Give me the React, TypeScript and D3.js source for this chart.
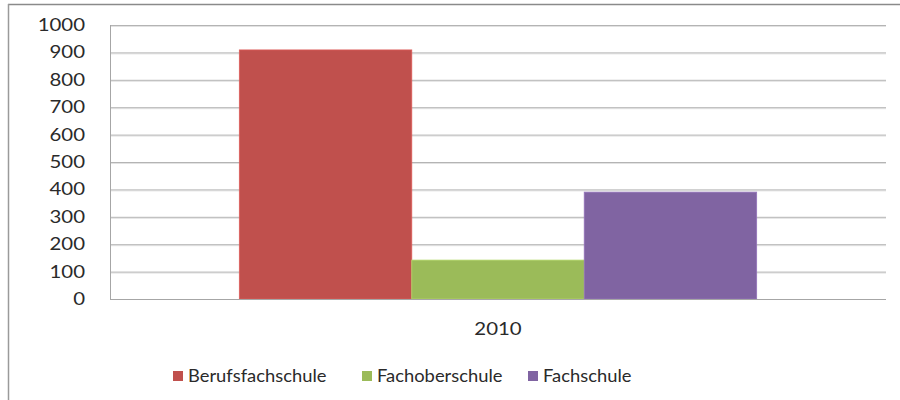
import { useEffect, useRef } from 'react';
import * as d3 from 'd3';

const categories = ['2010'];
const seriesNames = ['Berufsfachschule', 'Fachoberschule', 'Fachschule'];
const seriesValues = [[909], [142], [390]];
const colors = ['#C0504D', '#9BBB59', '#8064A2'];
const yTicks = [0, 100, 200, 300, 400, 500, 600, 700, 800, 900, 1000];

const App = () => {
  const svgRef = useRef<SVGSVGElement | null>(null);

  useEffect(() => {
    if (!svgRef.current) return;
    const svg = d3.select(svgRef.current);
    svg.selectAll('*').remove();

    const left = 110;
    const right = 886;
    const top = 25;
    const bottom = 299;
    const font = 'Lato, "Open Sans", sans-serif';
    const textColor = '#2a2a2a';

    // outer frame
    svg.append('line').attr('x1', 8).attr('x2', 900).attr('y1', 4.5).attr('y2', 4.5)
      .attr('stroke', '#8a8a8a').attr('stroke-width', 1.5);
    svg.append('line').attr('x1', 8.5).attr('x2', 8.5).attr('y1', 4).attr('y2', 400)
      .attr('stroke', '#9a9a9a').attr('stroke-width', 1.5);

    const y = d3.scaleLinear().domain([0, 1000]).range([bottom, top]);
    const x0 = d3.scaleBand().domain(categories).range([left, right]).paddingInner(0).paddingOuter(0);
    const x1 = d3.scaleBand().domain(seriesNames).range([0, x0.bandwidth()]).paddingInner(0).paddingOuter(0.75);

    // gridlines
    const grid = svg.append('g');
    yTicks.filter(t => t > 0).forEach(t => {
      grid.append('line').attr('x1', left).attr('x2', right)
        .attr('y1', y(t) + 1.5).attr('y2', y(t) + 1.5)
        .attr('stroke', '#e2e2e2').attr('stroke-width', 1);
      grid.append('line').attr('x1', left).attr('x2', right)
        .attr('y1', y(t) + 0.5).attr('y2', y(t) + 0.5)
        .attr('stroke', '#b4b4b4').attr('stroke-width', 1);
    });

    // bars
    categories.forEach((c, ci) => {
      seriesNames.forEach((s, si) => {
        const v = seriesValues[si][ci];
        svg.append('rect')
          .attr('x', (x0(c) ?? 0) + (x1(s) ?? 0))
          .attr('y', y(v))
          .attr('width', x1.bandwidth())
          .attr('height', y(0) - y(v))
          .attr('fill', colors[si])
          .attr('stroke', d3.color(colors[si])!.brighter(0.4).toString())
          .attr('stroke-width', 0.8);
      });
    });

    // axes lines
    svg.append('line').attr('x1', left + 0.5).attr('x2', left + 0.5).attr('y1', top).attr('y2', bottom + 1)
      .attr('stroke', '#a6a6a6').attr('stroke-width', 1);
    svg.append('line').attr('x1', left).attr('x2', right).attr('y1', bottom + 0.5).attr('y2', bottom + 0.5)
      .attr('stroke', '#a6a6a6').attr('stroke-width', 1.2);

    // y tick labels
    svg.append('g').selectAll('text')
      .data(yTicks)
      .enter()
      .append('text')
      .attr('transform', d => `translate(85, ${y(d) + 6}) scale(1.2, 1)`)
      .attr('text-anchor', 'end')
      .attr('fill', textColor)
      .style('font-family', font)
      .style('font-size', '17px')
      .text(d => String(d));

    // category label
    svg.append('g').selectAll('text')
      .data(categories)
      .enter()
      .append('text')
      .attr('transform', d => `translate(${(x0(d) ?? 0) + x0.bandwidth() / 2}, 335) scale(1.2, 1)`)
      .attr('text-anchor', 'middle')
      .attr('fill', textColor)
      .style('font-family', font)
      .style('font-size', '17px')
      .text(d => d);

    // legend
    const legendX = [173, 362, 528];
    const legend = svg.append('g');
    seriesNames.forEach((s, i) => {
      legend.append('rect')
        .attr('x', legendX[i]).attr('y', 371)
        .attr('width', 10).attr('height', 10)
        .attr('fill', colors[i]);
      legend.append('text')
        .attr('transform', `translate(${legendX[i] + 15}, 382) scale(1.08, 1)`)
        .attr('fill', textColor)
        .style('font-family', font)
        .style('font-size', '17px')
        .text(s);
    });
  }, []);

  return (
    <svg
      ref={svgRef}
      width={900}
      height={400}
      style={{ position: 'absolute', left: 0, top: 0, background: '#fff' }}
    />
  );
};

export default App;
